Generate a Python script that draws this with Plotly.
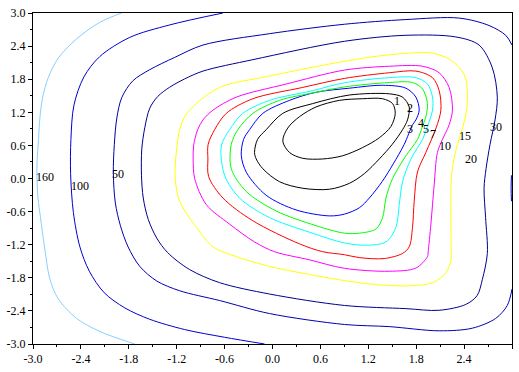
import plotly.graph_objects as go

# ---- contour lines (data units) ----
lvl1_x = [0.129, 0.191, 0.3375, 0.546, 0.8375, 1.129, 1.379, 1.504, 1.5375, 1.484, 1.3375, 1.129, 0.879, 0.629, 0.379, 0.2125, 0.129]
lvl1_y = [0.678, 0.915, 1.120, 1.297, 1.416, 1.446, 1.446, 1.358, 1.181, 0.944, 0.738, 0.561, 0.412, 0.354, 0.366, 0.472, 0.678]

lvl2_x = [-0.225, -0.1875, -0.079, 0.129, 0.504, 0.9625, 1.4625, 1.629, 1.7125, 1.691, 1.629, 1.5, 1.3375, 1.15, 0.9625, 0.7125, 0.379, 0.0875, -0.121, -0.204, -0.225]
lvl2_y = [0.472, 0.708, 0.885, 1.181, 1.358, 1.513, 1.535, 1.474, 1.297, 1.062, 0.885, 0.619, 0.354, 0.088, -0.088, -0.195, -0.177, -0.058, 0.177, 0.354, 0.472]

lvl3_x = [-0.391, -0.3625, -0.2875, -0.121, 0.2125, 0.546, 0.9625, 1.379, 1.671, 1.796, 1.8375, 1.796, 1.754, 1.65, 1.5125, 1.375, 1.2125, 1.0875, 0.9, 0.7125, 0.296, -0.079, -0.325, -0.391]
lvl3_y = [0.412, 0.708, 0.885, 1.181, 1.416, 1.563, 1.637, 1.690, 1.637, 1.474, 1.239, 1.062, 0.973, 0.619, 0.265, -0.053, -0.354, -0.531, -0.646, -0.678, -0.570, -0.304, 0.106, 0.412]

lvl4_x = [-0.516, -0.516, -0.434, -0.246, 0.0875, 0.546, 0.9, 1.4625, 1.754, 1.879, 1.941, 1.921, 1.879, 1.816, 1.671, 1.504, 1.421, 1.379, 1.296, 1.0875, 0.9, 0.546, 0.046, -0.329, -0.516]
lvl4_y = [0.177, 0.619, 0.885, 1.181, 1.416, 1.563, 1.660, 1.740, 1.740, 1.623, 1.358, 1.121, 0.944, 0.708, 0.412, 0.0, -0.354, -0.708, -0.915, -0.991, -0.991, -0.855, -0.589, -0.235, 0.177]

lvl5_x = [-0.6, -0.641, -0.5375, -0.371, -0.0375, 0.504, 0.9, 1.4625, 1.796, 1.941, 2.004, 2.004, 1.941, 1.879, 1.734, 1.629, 1.5875, 1.546, 1.421, 1.171, 0.9, 0.4625, -0.0375, -0.4125, -0.6]
lvl5_y = [0.058, 0.589, 0.885, 1.181, 1.416, 1.593, 1.735, 1.828, 1.828, 1.712, 1.474, 1.239, 0.944, 0.708, 0.354, -0.058, -0.473, -0.885, -1.150, -1.209, -1.168, -0.973, -0.708, -0.354, 0.058]

lvl7_x = [-0.8, -0.809, -0.806, -0.725, -0.579, -0.246, 0.379, 0.9, 1.4625, 1.796, 2.004, 2.0875, 2.109, 2.05, 1.921, 1.816, 1.775, 1.754, 1.7125, 1.629, 1.4, 1.0875, 0.9, 0.629, 0.34, -0.246, -0.621, -0.8]
lvl7_y = [0.035, 0.354, 0.619, 0.885, 1.181, 1.446, 1.651, 1.814, 1.917, 1.947, 1.828, 1.593, 1.239, 0.920, 0.473, 0.119, -0.412, -0.885, -1.239, -1.358, -1.451, -1.434, -1.381, -1.327, -1.186, -0.766, -0.354, 0.035]

lvl10_x = [-0.975, -0.994, -0.9875, -0.9375, -0.871, -0.746, -0.454, 0.171, 0.9, 1.4625, 1.879, 2.0875, 2.2125, 2.254, 2.2125, 2.129, 2.066, 2.025, 1.984, 1.95, 1.941, 1.796, 1.4625, 0.9, 0.4625, 0.025, -0.225, -0.5375, -0.829, -0.975]
lvl10_y = [0.0, 0.354, 0.602, 0.885, 1.062, 1.239, 1.474, 1.712, 1.965, 2.035, 2.035, 1.917, 1.651, 1.239, 0.973, 0.708, 0.473, -0.119, -0.827, -1.327, -1.416, -1.623, -1.681, -1.628, -1.474, -1.327, -1.150, -0.827, -0.473, 0.0]

lvl15_x = [-1.2125, -1.1625, -1.0875, -0.954, -0.6625, -0.0375, 0.9, 1.4625, 2.004, 2.2375, 2.4, 2.441, 2.431, 2.375, 2.3, 2.244, 2.234, 2.2375, 2.234, 2.171, 2.004, 1.671, 1.254, 0.9, 0.4625, -0.0375, -0.454, -0.746, -0.954, -1.1625, -1.219, -1.2125]
lvl15_y = [0.354, 0.885, 1.150, 1.358, 1.651, 1.858, 2.124, 2.242, 2.271, 2.142, 1.888, 1.593, 1.239, 0.885, 0.531, 0.088, -0.531, -1.239, -1.474, -1.712, -1.888, -1.947, -1.917, -1.850, -1.740, -1.593, -1.416, -1.239, -0.885, -0.412, 0.0, 0.354]

lvl30_x = [-1.641, -1.6375, -1.6, -1.5375, -1.4375, -1.2875, -1.1, -0.871, -0.246, 0.9, 1.671, 2.296, 2.5875, 2.754, 2.816, 2.7875, 2.725, 2.675, 2.65, 2.669, 2.691, 2.629, 2.5625, 2.421, 2.0875, 1.671, 0.9, -0.0375, -0.6625, -1.0375, -1.3125, -1.45, -1.556, -1.619, -1.641]
lvl30_y = [0.058, 0.531, 0.920, 1.274, 1.487, 1.655, 1.805, 1.947, 2.154, 2.487, 2.596, 2.566, 2.419, 2.005, 1.474, 1.062, 0.619, 0.177, -0.177, -0.708, -1.358, -1.828, -2.124, -2.283, -2.389, -2.359, -2.301, -2.094, -1.888, -1.651, -1.345, -1.080, -0.743, -0.354, 0.058]

lvl50_x = [3.0, 2.921, 2.7125, 2.3375, 1.671, 0.9, -0.0375, -0.871, -1.225, -1.5375, -1.75, -1.8875, -1.95, -1.98125, -1.99375, -1.96875, -1.906, -1.809, -1.6625, -1.45, -1.1625, -0.6625, -0.0375, 0.9, 1.4625, 2.0875, 2.504, 2.796, 2.941, 3.0]
lvl50_y = [2.419, 2.596, 2.773, 2.908, 2.881, 2.796, 2.625, 2.419, 2.195, 1.973, 1.770, 1.469, 1.097, 0.619, 0.088, -0.442, -0.850, -1.239, -1.593, -1.858, -2.035, -2.212, -2.448, -2.646, -2.685, -2.761, -2.713, -2.536, -2.301, -2.005]
lvl50b_x = [2.993, 2.989, 2.993]
lvl50b_y = [0.058, -0.177, -0.412]

lvl100_x = [-0.621, -1.2875, -1.7875, -2.1625, -2.3625, -2.4875, -2.525, -2.529, -2.494, -2.4125, -2.294, -2.1075, -1.85, -1.5375, -1.1, -0.6, -0.1]
lvl100_y = [3.0, 2.784, 2.558, 2.212, 1.841, 1.327, 0.708, 0.088, -0.619, -1.239, -1.681, -2.071, -2.345, -2.552, -2.738, -2.878, -3.0]

lvl160_x = [-1.891, -2.1625, -2.45, -2.684, -2.809, -2.879, -2.9125, -2.931, -2.95, -2.95, -2.9375, -2.906, -2.856, -2.7875, -2.684, -2.454, -2.1625, -1.725]
lvl160_y = [3.0, 2.832, 2.536, 2.182, 1.828, 1.474, 1.120, 0.708, 0.265, 0.0, -0.354, -0.708, -1.239, -1.827, -2.181, -2.536, -2.773, -3.0]

# ---- contour labels ----
label_text = ["1", "2", "3", "4", "5", "7", "10", "15", "20", "30", "50", "100", "160"]
label_x = [1.5625, 1.725, 1.725, 1.8625, 1.925, 2.0125, 2.1625, 2.4125, 2.4875, 2.8, -1.9375, -2.4125, -2.85]
label_y = [1.398, 1.274, 0.903, 1.009, 0.903, 0.814, 0.584, 0.779, 0.354, 0.938, 0.088, -0.142, 0.035]

# ---- axis ticks ----
tick_vals = [-3.0, -2.4, -1.8, -1.2, -0.6, 0.0, 0.6, 1.2, 1.8, 2.4, 3.0]
tick_text = ["-3.0", "-2.4", "-1.8", "-1.2", "-0.6", "0.0", "0.6", "1.2", "1.8", "2.4", "3.0"]

SERIF = "Liberation Serif"

curves = [
    (lvl1_x, lvl1_y, "#000000"),
    (lvl2_x, lvl2_y, "#000000"),
    (lvl3_x, lvl3_y, "#0000FF"),
    (lvl4_x, lvl4_y, "#00FF00"),
    (lvl5_x, lvl5_y, "#00FFFF"),
    (lvl7_x, lvl7_y, "#FF0000"),
    (lvl10_x, lvl10_y, "#FF00FF"),
    (lvl15_x, lvl15_y, "#FFFF00"),
    (lvl30_x, lvl30_y, "#000090"),
    (lvl50_x, lvl50_y, "#0000B0"),
    (lvl50b_x, lvl50b_y, "#0000B0"),
    (lvl100_x, lvl100_y, "#0000D0"),
    (lvl160_x, lvl160_y, "#87CEFF"),
]

fig = go.Figure()
for xs, ys, col in curves:
    fig.add_trace(go.Scatter(x=xs, y=ys, mode="lines",
                             line=dict(color=col, width=1, shape="spline", smoothing=0.9),
                             hoverinfo="skip", showlegend=False))

for t, x, y in zip(label_text, label_x, label_y):
    fig.add_annotation(x=x, y=y, text=t, showarrow=False, xanchor="center", yanchor="middle",
                       font=dict(family=SERIF, size=12, color="black"))

axis_common = dict(range=[-3, 3], tickvals=tick_vals, ticktext=tick_text, showgrid=False, zeroline=False,
                   showline=True, linecolor="black", linewidth=1, mirror=True,
                   ticks="outside", ticklen=4, tickcolor="black", tickwidth=1,
                   minor=dict(dtick=0.3, tick0=0, ticks="outside", ticklen=2, tickcolor="black", showgrid=False),
                   tickfont=dict(family=SERIF, size=12, color="black"))

fig.update_layout(
    width=519, height=372,
    margin=dict(l=33, r=6, t=10, b=23),
    paper_bgcolor="white", plot_bgcolor="white",
    font=dict(family=SERIF, size=12, color="black"),
    xaxis=axis_common, yaxis=axis_common,
    showlegend=False,
)

fig.write_html("out.html")
